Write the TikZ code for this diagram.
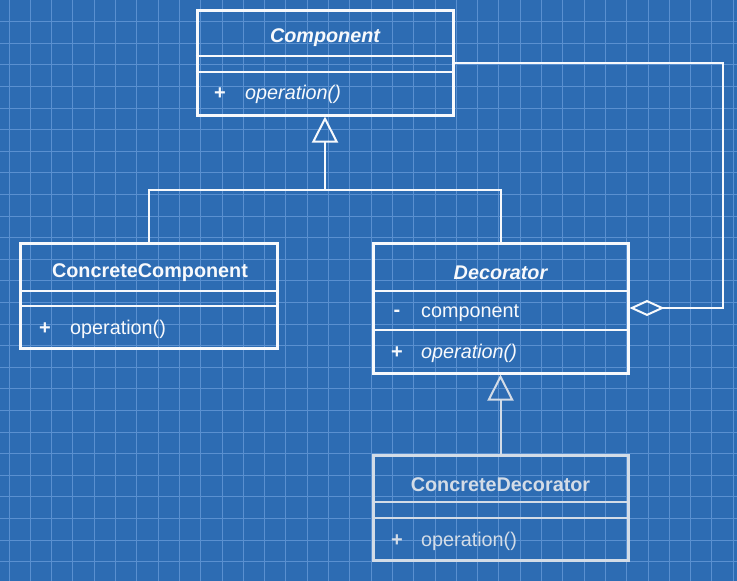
\documentclass[tikz,border=0pt]{standalone}
\usepackage{fontspec}
\setmainfont{Liberation Sans}
\usetikzlibrary{arrows.meta,positioning,calc}
\definecolor{bpBlue}{HTML}{2D6CB3}
\definecolor{bpGrid}{HTML}{5A90D0}
\definecolor{bpInk}{HTML}{F7F9FC}
\definecolor{bpFaint}{HTML}{D3DCE7}
\tikzset{
  umlbox/.style={draw=bpInk, line width=3pt, inner sep=0pt},
  fadebox/.style={umlbox, draw=bpFaint},
  sepline/.style={draw=bpInk, line width=2pt},
  fadesep/.style={sepline, draw=bpFaint},
  title/.style={font=\fontsize{19.8}{23}\selectfont\bfseries, text=bpInk, inner sep=0pt},
  member/.style={font=\fontsize{19.8}{23}\selectfont, text=bpInk, inner sep=0pt, anchor=west},
  vis/.style={font=\fontsize{20}{23}\selectfont\bfseries, text=bpInk, inner sep=0pt},
  gridline/.style={draw=bpGrid, line width=0.9pt},
  inherit/.style={draw=bpInk, line width=2pt, -{Triangle[open, length=26pt, width=26pt, line width=2pt]}},
  plain/.style={draw=bpInk, line width=2pt},
  aggregate/.style={draw=bpInk, line width=2pt, -{Diamond[open, length=35pt, width=16pt, line width=2pt]}}
}
\begin{document}
\begin{tikzpicture}[x=1pt, y=-1pt]
  % blueprint paper
  \fill[bpBlue] (0,0) rectangle (737,581);
  \useasboundingbox (0,0) rectangle (737,581);
  \foreach \i in {0,...,34}{\draw[gridline] ({9+21.3*\i},0) -- ++(0,581);}
  \foreach \j in {1,...,26}{\draw[gridline] (0,{21.6*\j}) -- ++(737,0);}

  % Component
  \node[umlbox, minimum width=256pt, minimum height=105pt] (comp) at (325,62.5) {};
  \draw[sepline] ([yshift=-47pt]comp.north west) -- ([yshift=-47pt]comp.north east);
  \draw[sepline] ([yshift=-63pt]comp.north west) -- ([yshift=-63pt]comp.north east);
  \node[title, font=\fontsize{19.8}{23}\selectfont\bfseries\itshape] (compname) at (325,38) {Component};
  \node[vis] (compvis) at (220,94) {+};
  \node[member, font=\fontsize{19.8}{23}\selectfont\itshape] (compop) at (245,94) {operation()};

  % ConcreteComponent
  \node[umlbox, minimum width=257pt, minimum height=105pt] (ccomp) at (149,295.5) {};
  \draw[sepline] ([yshift=-49pt]ccomp.north west) -- ([yshift=-49pt]ccomp.north east);
  \draw[sepline] ([yshift=-64pt]ccomp.north west) -- ([yshift=-64pt]ccomp.north east);
  \node[title] (ccompname) at (150,273) {ConcreteComponent};
  \node[vis] (ccompvis) at (45,329) {+};
  \node[member] (ccompop) at (70,329) {operation()};

  % Decorator
  \node[umlbox, minimum width=255pt, minimum height=130pt] (dec) at (500.5,308) {};
  \draw[sepline] ([yshift=-49pt]dec.north west) -- ([yshift=-49pt]dec.north east);
  \draw[sepline] ([yshift=-88pt]dec.north west) -- ([yshift=-88pt]dec.north east);
  \node[title, font=\fontsize{19.8}{23}\selectfont\bfseries\itshape] (decname) at (500.5,273) {Decorator};
  \node[vis] (decvis) at (397,313) {-};
  \node[member] (decfield) at (421,313) {component};
  \node[vis] (decopvis) at (397,353) {+};
  \node[member, font=\fontsize{19.8}{23}\selectfont\itshape] (decop) at (421,353) {operation()};

  % ConcreteDecorator (faded)
  \node[fadebox, minimum width=255pt, minimum height=105pt] (cdec) at (500.5,507.5) {};
  \draw[fadesep] ([yshift=-48pt]cdec.north west) -- ([yshift=-48pt]cdec.north east);
  \draw[fadesep] ([yshift=-64pt]cdec.north west) -- ([yshift=-64pt]cdec.north east);
  \node[title, text=bpFaint] (cdecname) at (500.5,485) {ConcreteDecorator};
  \node[vis, text=bpFaint] (cdecvis) at (397,541) {+};
  \node[member, text=bpFaint] (cdecop) at (421,541) {operation()};

  % generalisation
  \coordinate (split) at (325,190);
  \draw[inherit] (ccomp.north) |- (split) -- (comp.south);
  \draw[plain] (dec.north) |- (split);
  \draw[inherit, draw=bpFaint] (cdec.north) -- (dec.south);

  % aggregation back to Component
  \coordinate (aggx) at (723,0);
  \draw[aggregate] (comp.east) -| (aggx |- dec.east) -- (dec.east);
\end{tikzpicture}
\end{document}
